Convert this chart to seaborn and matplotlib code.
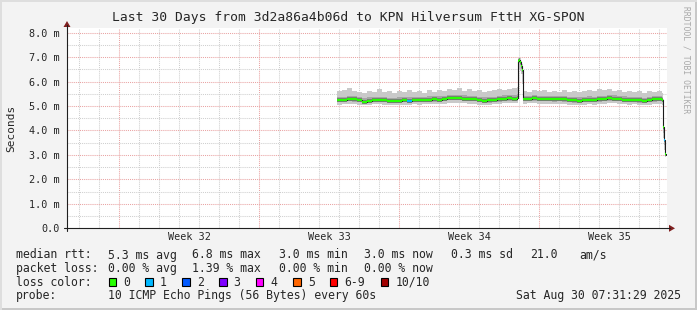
import numpy as np
import pandas as pd
import matplotlib
matplotlib.use("Agg")
import matplotlib.pyplot as plt
import seaborn as sns
from matplotlib.patches import Rectangle, Polygon
from matplotlib.lines import Line2D

# ---------------- data ----------------
title = "Last 30 Days from 3d2a86a4b06d to KPN Hilversum FttH XG-SPON"
week_labels = ["Week 32", "Week 33", "Week 34", "Week 35"]
y_ticks = [0, 1, 2, 3, 4, 5, 6, 7, 8]
y_tick_labels = ["0.0", "1.0 m", "2.0 m", "3.0 m", "4.0 m", "5.0 m", "6.0 m", "7.0 m", "8.0 m"]

# sample times: days from the left edge of the 30-day window
t_days = [13.5, 13.75, 14.0, 14.25, 14.5, 14.75, 15.0, 15.25, 15.5, 15.75,
          16.0, 16.25, 16.5, 16.75, 17.0, 17.25, 17.5, 17.75, 18.0, 18.25,
          18.5, 18.75, 19.0, 19.25, 19.5, 19.75, 20.0, 20.25, 20.5, 20.75,
          21.0, 21.25, 21.5, 21.75, 22.0, 22.25,
          22.5, 22.55, 22.6, 22.65, 22.7, 22.75, 22.8, 23.0,
          23.25, 23.5, 23.75, 24.0, 24.25, 24.5, 24.75, 25.0, 25.25, 25.5,
          25.75, 26.0, 26.25, 26.5, 26.75, 27.0, 27.25, 27.5, 27.75, 28.0,
          28.25, 28.5, 28.75, 29.0, 29.25, 29.5, 29.75,
          29.8, 29.85, 29.9, 29.95]

# median rtt (ms)
median_ms = [5.23, 5.24, 5.29, 5.28, 5.25, 5.18, 5.22, 5.26, 5.25, 5.23,
             5.21, 5.22, 5.21, 5.23, 5.22, 5.24, 5.23, 5.25, 5.26, 5.27,
             5.26, 5.28, 5.33, 5.34, 5.32, 5.30, 5.29, 5.28, 5.24, 5.22,
             5.23, 5.25, 5.27, 5.30, 5.31, 5.30,
             5.32, 6.84, 6.86, 6.81, 6.62, 6.47, 5.29, 5.30,
             5.31, 5.29, 5.28, 5.29, 5.27, 5.28, 5.27, 5.24, 5.23, 5.22,
             5.24, 5.26, 5.25, 5.27, 5.29, 5.31, 5.30, 5.28, 5.26, 5.25,
             5.26, 5.23, 5.21, 5.24, 5.27, 5.28, 5.25,
             4.15, 3.60, 3.02, 2.98]

# smoke: max / upper-mid / lower-mid / min of the 10 pings (ms)
smoke_max = [5.62, 5.66, 5.72, 5.60, 5.58, 5.55, 5.63, 5.57, 5.68, 5.56,
             5.60, 5.54, 5.62, 5.58, 5.66, 5.57, 5.61, 5.55, 5.64, 5.59,
             5.67, 5.62, 5.70, 5.66, 5.72, 5.63, 5.68, 5.60, 5.65, 5.58,
             5.62, 5.66, 5.70, 5.64, 5.69, 5.73,
             5.78, 6.98, 7.02, 6.97, 6.85, 6.70, 5.62, 5.58,
             5.66, 5.60, 5.64, 5.57, 5.63, 5.59, 5.65, 5.58, 5.62, 5.56,
             5.61, 5.67, 5.60, 5.69, 5.64, 5.70, 5.62, 5.66, 5.58, 5.63,
             5.57, 5.60, 5.55, 5.62, 5.58, 5.61, 5.52,
             5.30, 4.10, 3.30, 3.30]
smoke_hi = [5.36, 5.38, 5.40, 5.39, 5.37, 5.32, 5.35, 5.37, 5.38, 5.35,
            5.34, 5.34, 5.35, 5.36, 5.36, 5.37, 5.36, 5.37, 5.39, 5.40,
            5.39, 5.41, 5.45, 5.46, 5.45, 5.43, 5.42, 5.41, 5.38, 5.35,
            5.36, 5.38, 5.41, 5.43, 5.44, 5.44,
            5.48, 6.90, 6.93, 6.88, 6.72, 6.58, 5.42, 5.42,
            5.43, 5.41, 5.40, 5.41, 5.40, 5.40, 5.40, 5.37, 5.36, 5.35,
            5.37, 5.39, 5.38, 5.40, 5.42, 5.44, 5.43, 5.41, 5.39, 5.38,
            5.38, 5.36, 5.34, 5.37, 5.40, 5.41, 5.37,
            4.60, 3.80, 3.10, 3.10]
smoke_lo = [5.15, 5.16, 5.19, 5.18, 5.16, 5.11, 5.13, 5.17, 5.16, 5.15,
            5.13, 5.14, 5.13, 5.15, 5.14, 5.15, 5.15, 5.17, 5.17, 5.18,
            5.17, 5.19, 5.24, 5.25, 5.23, 5.21, 5.20, 5.19, 5.15, 5.13,
            5.14, 5.16, 5.18, 5.21, 5.22, 5.21,
            5.22, 6.70, 6.75, 6.68, 6.50, 6.30, 5.20, 5.21,
            5.22, 5.20, 5.19, 5.20, 5.18, 5.19, 5.18, 5.15, 5.14, 5.13,
            5.15, 5.17, 5.16, 5.18, 5.20, 5.22, 5.21, 5.19, 5.17, 5.16,
            5.17, 5.14, 5.12, 5.15, 5.18, 5.19, 5.16,
            3.90, 3.40, 2.98, 2.98]
smoke_min = [5.06, 5.08, 5.10, 5.09, 5.05, 5.03, 5.05, 5.08, 5.07, 5.06,
             5.04, 5.06, 5.05, 5.06, 5.05, 5.07, 5.06, 5.08, 5.07, 5.09,
             5.08, 5.10, 5.13, 5.14, 5.12, 5.11, 5.10, 5.09, 5.06, 5.04,
             5.05, 5.07, 5.08, 5.11, 5.12, 5.11,
             5.12, 6.30, 6.50, 6.45, 6.30, 5.90, 5.10, 5.12,
             5.12, 5.10, 5.09, 5.10, 5.08, 5.09, 5.08, 5.06, 5.05, 5.04,
             5.06, 5.07, 5.06, 5.08, 5.10, 5.12, 5.11, 5.09, 5.07, 5.06,
             5.07, 5.05, 5.03, 5.05, 5.08, 5.09, 5.05,
             3.70, 3.20, 2.92, 2.92]

# lost pings (out of 10) per sample
loss_count = [0] * 14 + [1] + [0] * 57 + [1, 0, 0]

loss_labels = ["0", "1", "2", "3", "4", "5", "6-9", "10/10"]
loss_colors = ["#26ff00", "#00b8ff", "#0059ff", "#7e00ff", "#ff00ff", "#ff6600", "#ff0000", "#a10000"]

rtt_items = ["median rtt:", "5.3 ms avg", "6.8 ms max", "3.0 ms min", "3.0 ms now", "0.3 ms sd", "21.0", "am/s"]
loss_items = ["packet loss:", "0.00 % avg", "1.39 % max", "0.00 % min", "0.00 % now"]
probe_items = ["probe:", "10 ICMP Echo Pings (56 Bytes) every 60s"]
stamp = "Sat Aug 30 07:31:29 2025"

# ---------------- layout ----------------
W, H = 697, 310
X0, X1 = 67, 667          # plot area in px
YT, YB = 27.7, 228.3
YMAX = 8.2
week_start = [2.615, 9.615, 16.615, 23.615]

sns.set_theme(style="white")
plt.rcParams["font.family"] = ["DejaVu Sans Mono"]

BG = "#F3F3F3"
fig = plt.figure(figsize=(W / 100, H / 100), dpi=100, facecolor=BG)


def fx(x):
    return x / W


def fy(y):
    return 1 - y / H


ax = fig.add_axes([fx(X0), fy(YB), (X1 - X0) / W, (YB - YT) / H])
ax.set_facecolor("white")
ax.set_xlim(0, 30)
ax.set_ylim(0, YMAX)
for s in ax.spines.values():
    s.set_visible(False)

# grid
minor_c = "#CFCFCF"
major_c = "#E9A3A3"
dot = (0, (1, 1))
for d in range(30):
    xd = 0.615 + d
    is_major = any(abs(xd - w) < 1e-6 for w in week_start)
    ax.axvline(xd, color=major_c if is_major else minor_c, lw=0.75, ls=dot, zorder=0)
for k in range(1, 17):
    yv = k * 0.5
    ax.axhline(yv, color=major_c if k % 2 == 0 else minor_c, lw=0.75, ls=dot, zorder=0)

ax.set_yticks(y_ticks)
ax.set_yticklabels(y_tick_labels, fontsize=7.3)
ax.set_xticks([])
ax.tick_params(axis="y", length=0, pad=5)

df = pd.DataFrame({"t": t_days, "med": median_ms, "smax": smoke_max,
                   "shi": smoke_hi, "slo": smoke_lo, "smin": smoke_min,
                   "loss": loss_count})

# smoke
ax.fill_between(df["t"], df["smin"], df["smax"], step="post", color="#C9C9C9", lw=0, zorder=2)
ax.fill_between(df["t"], df["slo"], df["shi"], step="post", color="#A6A6A6", lw=0, zorder=3)

tt = df["t"].to_numpy()
mm = df["med"].to_numpy()
ll = df["loss"].to_numpy()
# darkest smoke core around the median (horizontal pieces only)
ax.hlines(mm[:-1], tt[:-1], tt[1:], color="#707070", lw=2.6, zorder=4)
# thin dark median line with its vertical transitions
sns.lineplot(data=df, x="t", y="med", ax=ax, estimator=None, drawstyle="steps-post",
             color="#1a1a1a", lw=0.8, zorder=5)
# median coloured by loss
for i in range(len(df) - 1):
    n = int(ll[i])
    ci = 7 if n >= 10 else (6 if n >= 6 else n)
    ax.hlines(mm[i], tt[i], tt[i + 1], color=loss_colors[ci], lw=1.6, zorder=6)
ax.set_xlabel("")
ax.set_ylabel("")

# week labels
y_lab = -(237.5 - YB) / (YB - YT) * YMAX
for lab, ws in zip(week_labels, week_start):
    ax.text(ws + 3.5, y_lab, lab, fontsize=7.3, ha="center", va="center", clip_on=False)

# axes lines and arrows
axis_c = "#1F1F1F"
arrow_c = "#801F1F"
fig.add_artist(Line2D([fx(63.5), fx(670)], [fy(YB), fy(YB)], color=axis_c, lw=0.8))
fig.add_artist(Line2D([fx(X0), fx(X0)], [fy(YB + 2.5), fy(25)], color=axis_c, lw=0.8))
fig.add_artist(Polygon([[fx(669), fy(YB - 3.5)], [fx(669), fy(YB + 3.5)], [fx(675), fy(YB)]],
                       closed=True, color=arrow_c, lw=0))
fig.add_artist(Polygon([[fx(X0 - 3.5), fy(27)], [fx(X0 + 3.5), fy(27)], [fx(X0), fy(21)]],
                       closed=True, color=arrow_c, lw=0))

# title, unit, watermark
fig.text(0.5, fy(18), title, fontsize=9.4, ha="center", va="center")
fig.text(fx(11), fy(128), "Seconds", fontsize=8.0, rotation=90, ha="center", va="center")
fig.text(fx(686), fy(60), "RRDTOOL / TOBI OETIKER", fontsize=5.8, rotation=270,
         ha="center", va="center", color="#A8A8A8")

# legend
LF = 8.3
rtt_x = [16, 107.5, 192.5, 279, 364, 451, 530, 579]
for s, x in zip(rtt_items, rtt_x):
    fig.text(fx(x), fy(255), s, fontsize=LF, ha="left", va="center")
for s, x in zip(loss_items, rtt_x):
    fig.text(fx(x), fy(268.5), s, fontsize=LF, ha="left", va="center")
fig.text(fx(16), fy(282), "loss color:", fontsize=LF, ha="left", va="center")
box_x = [108.5, 145.3, 182.2, 219.1, 255.9, 293.3, 329.7, 380.8]
for lab, col, bx in zip(loss_labels, loss_colors, box_x):
    fig.add_artist(Rectangle((fx(bx), fy(286)), 7.5 / W, 8 / H, facecolor=col,
                             edgecolor="black", lw=0.8))
    fig.text(fx(bx + 14.5), fy(282), lab, fontsize=LF, ha="left", va="center")
fig.text(fx(16), fy(296), probe_items[0], fontsize=LF, ha="left", va="center")
fig.text(fx(107.5), fy(296), probe_items[1], fontsize=LF, ha="left", va="center")
fig.text(fx(681), fy(296), stamp, fontsize=LF, ha="right", va="center")

# 3d frame
fig.add_artist(Rectangle((0, 0), 1, 2 / H, color="#C8C8C8", lw=0))
fig.add_artist(Rectangle((1 - 2 / W, 0), 2 / W, 1, color="#C8C8C8", lw=0))
fig.add_artist(Rectangle((0, 1 - 2 / H), 1, 2 / H, color="#DEDEDE", lw=0))
fig.add_artist(Rectangle((0, 0), 2 / W, 1, color="#DEDEDE", lw=0))

fig.savefig("out.png", dpi=100, facecolor=BG)
